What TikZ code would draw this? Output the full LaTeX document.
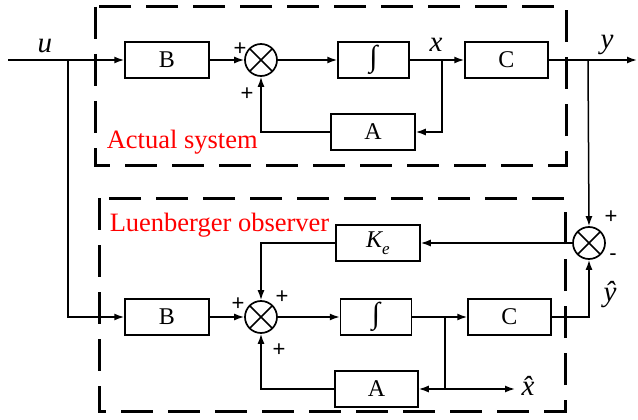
\documentclass[tikz,border=0pt]{standalone}
\usepackage{graphicx}
\usepackage{fontspec}
\setmainfont{Liberation Serif}
\newfontfamily\plusfont{Liberation Sans}
\usetikzlibrary{arrows.meta}
\begin{document}
\begin{tikzpicture}[x=1pt,y=-1pt,
  line width=1.5pt,
  arr/.style={-{Latex[length=10pt,width=7pt]}},
  blk/.style={draw,line width=1.5pt,minimum width=84pt,minimum height=36pt,inner sep=0pt,font=\fontsize{24}{26}\selectfont},
  intg/.style={font=\fontsize{30}{30}\selectfont},
  sumc/.style={draw,circle,minimum size=32pt,inner sep=0pt,line width=1.7pt,
    path picture={\draw[line width=1.7pt] (path picture bounding box.north west)--(path picture bounding box.south east)
      (path picture bounding box.north east)--(path picture bounding box.south west);}},
  dbox/.style={draw,line width=3pt,dash pattern=on 32pt off 15pt},
  sig/.style={font=\fontsize{29}{30}\selectfont\itshape,inner sep=0pt},
  pl/.style={font=\plusfont\fontsize{22}{22}\selectfont,inner sep=0pt},
  redlab/.style={text=red,font=\fontsize{26.5}{28}\selectfont,inner sep=0pt,anchor=base west}]
\useasboundingbox (0,0) rectangle (638,420);
% dashed boxes
\draw[dbox] (95,7) rectangle (566,165);
\draw[dbox] (99,198) rectangle (565,411);
\node[redlab] (lab1) at (106,148) {Actual system};
\node[redlab] (lab2) at (109,231) {Luenberger observer};
% top row
\coordinate (in) at (8,60);
\node[blk] (B1) at (167,60) {B};
\node[sumc] (S1) at (261,60) {};
\node[blk,intg,minimum width=71pt] (I1) at (373.5,60) {∫};
\node[blk,minimum width=83pt] (C1) at (506.5,60) {C};
\node[blk] (A1) at (373,132) {A};
\coordinate (bx1) at (442,60);
\coordinate (by) at (588,60);
\coordinate (bu) at (68,60);
\coordinate (out) at (637,60);
\draw[arr] (in) -- (B1.west);
\draw[arr] (B1.east) -- (S1.west);
\draw[arr] (S1.east) -- (I1.west);
\draw[arr] (I1.east) -- (C1.west);
\draw[arr] (C1.east) -- (out);
\draw[arr] (bx1) |- (A1.east);
\draw[arr] (A1.west) -| (S1.south);
\node[sig] (u) at (45,46) {u};
\node[sig] (x) at (436,45) {x};
\node[sig] (y) at (607,45) {y};
\node[pl] (p1) at (240,49) {+};
\node[pl] (p2) at (247,94) {+};
% bottom
\node[sumc] (S3) at (589,243) {};
\node[blk] (K) at (378,243) {{\itshape K}\raisebox{-0.3em}{\fontsize{17}{17}\selectfont\itshape e}};
\node[blk] (B2) at (167,317) {B};
\node[sumc] (S2) at (261,317) {};
\node[blk,intg,minimum width=71pt] (I2) at (376,317) {∫};
\node[blk,minimum width=83pt] (C2) at (509.5,317) {C};
\node[blk,minimum width=83pt] (A2) at (376.5,389) {A};
\coordinate (bx2) at (445,317);
\coordinate (xh) at (515,389);
\draw[arr] (by) -- (S3.north);
\draw[arr] (S3.west) -- (K.east);
\draw[arr] (K.west) -| (S2.north);
\draw[arr] (bu) |- (B2.west);
\draw[arr] (B2.east) -- (S2.west);
\draw[arr] (S2.east) -- (I2.west);
\draw[arr] (I2.east) -- (C2.west);
\draw[arr] (C2.east) -| (S3.south);
\draw[arr] (bx2) |- (A2.east);
\draw[arr] (bx2 |- A2.east) -- (xh);
\draw[arr] (A2.west) -| (S2.south);
\node[sig] (yh) at (610,295) {ŷ};
\node[sig] (xhl) at (528,386) {x̂};
\node[pl] (p3) at (238,304) {+};
\node[pl] (p4) at (282,297) {+};
\node[pl] (p5) at (279,350) {+};
\node[pl] (p6) at (611,217) {+};
\node[pl] (p7) at (613,257) {-};
\end{tikzpicture}
\end{document}
